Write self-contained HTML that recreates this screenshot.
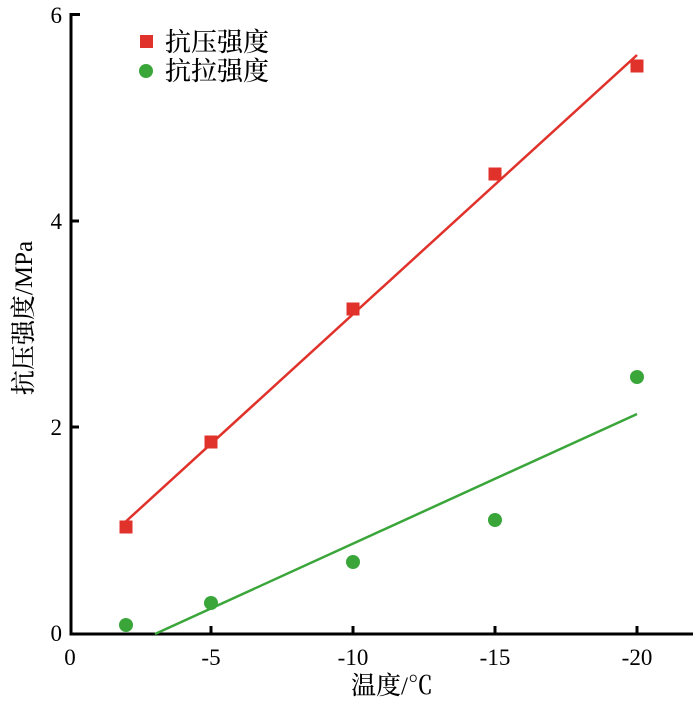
<!DOCTYPE html>
<html><head><meta charset="utf-8"><style>body{margin:0;background:#fff}</style></head><body>
<svg width="700" height="699" xmlns="http://www.w3.org/2000/svg" font-family="'Liberation Serif','Noto Serif CJK SC',serif">
<g stroke="#000" stroke-width="3" fill="none">
<path d="M80,14.5 H71 V634 H693"/>
<path d="M211,634 v-8 M353,634 v-8 M495,634 v-8 M637,634 v-8 M71,427 h8 M71,221 h8"/>
</g>
<g font-size="23" text-anchor="end" fill="#000">
<text x="62" y="641">0</text><text x="62" y="435">2</text><text x="62" y="229">4</text><text x="62" y="23">6</text>
</g>
<g font-size="23" text-anchor="middle" fill="#000">
<text x="70" y="665">0</text><text x="211" y="665">-5</text><text x="353" y="665">-10</text><text x="495" y="665">-15</text><text x="637" y="665">-20</text>
<text x="392" y="694" font-size="25" font-weight="500">温度/℃</text>
<text transform="translate(32,318) rotate(-90)" font-size="25" font-weight="500">抗压强度/MPa</text>
</g>
<line x1="122" y1="525" x2="637" y2="55" stroke="#e0322b" stroke-width="2.5"/>
<line x1="155" y1="634" x2="637" y2="414" stroke="#3aa63a" stroke-width="2.5"/>
<g fill="#e0322b">
<rect x="119.5" y="520.5" width="13" height="13"/><rect x="204.5" y="435.5" width="13" height="13"/><rect x="346.5" y="302.5" width="13" height="13"/><rect x="488.5" y="167.5" width="13" height="13"/><rect x="630.5" y="59.5" width="13" height="13"/>
<rect x="140" y="35" width="13" height="13"/>
</g>
<g fill="#3aa63a">
<circle cx="126" cy="625" r="7"/><circle cx="211" cy="603" r="7"/><circle cx="353" cy="562" r="7"/><circle cx="495" cy="520" r="7"/><circle cx="637" cy="377" r="7"/>
<circle cx="146" cy="71" r="7"/>
</g>
<g font-size="26" fill="#000" font-weight="500">
<text x="165" y="51">抗压强度</text><text x="165" y="80">抗拉强度</text>
</g>
</svg>
</body></html>
